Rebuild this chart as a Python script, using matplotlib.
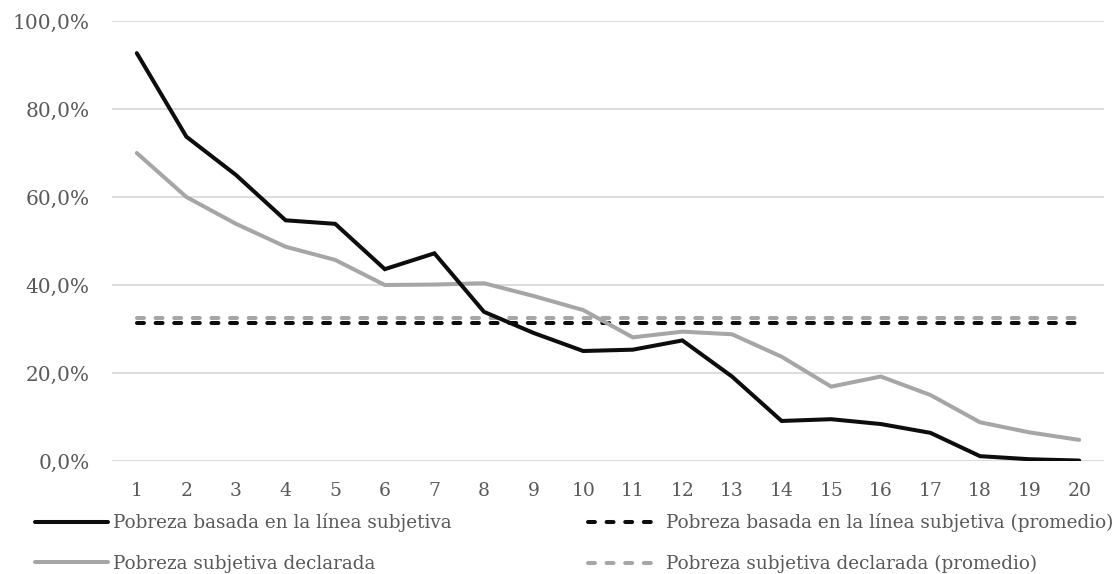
import matplotlib
matplotlib.use("Agg")
import matplotlib.pyplot as plt
from matplotlib.ticker import FuncFormatter

# deciles / grupos 1..20
grupos = list(range(1, 21))
linea_subjetiva = [92.7, 73.7, 65.0, 54.7, 53.9, 43.6, 47.2, 33.9, 29.1, 25.0,
                   25.3, 27.4, 19.2, 9.1, 9.5, 8.4, 6.4, 1.1, 0.4, 0.1]
declarada = [70.0, 60.0, 53.9, 48.7, 45.7, 40.0, 40.1, 40.4, 37.5, 34.3,
             28.1, 29.4, 28.8, 23.7, 16.9, 19.2, 15.0, 8.8, 6.5, 4.8]
promedio_linea = 31.3
promedio_declarada = 32.4

etiquetas = [
    "Pobreza basada en la línea subjetiva",
    "Pobreza subjetiva declarada",
    "Pobreza basada en la línea subjetiva (promedio)",
    "Pobreza subjetiva declarada (promedio)",
]

NEGRO = "#0d0d0d"
GRIS = "#a6a6a6"
TEXTO = "#595959"

plt.rcParams["font.family"] = ["DejaVu Serif"]
plt.rcParams["lines.scale_dashes"] = False

fig = plt.figure(figsize=(11.17, 5.74), dpi=100)
ax = fig.add_axes([112 / 1117, 1 - 461 / 574, (1104 - 112) / 1117, 440 / 574])

lw = 2.9
l1, = ax.plot(grupos, linea_subjetiva, color=NEGRO, lw=lw, solid_joinstyle="miter",
              solid_capstyle="round", zorder=4)
l2, = ax.plot(grupos, declarada, color=GRIS, lw=lw, solid_joinstyle="miter",
              solid_capstyle="round", zorder=3)
l3, = ax.plot([grupos[0], grupos[-1]], [promedio_linea] * 2, color=NEGRO, lw=lw,
              dashes=(5.0, 8.4), dash_capstyle="round", zorder=2)
l4, = ax.plot([grupos[0], grupos[-1]], [promedio_declarada] * 2, color=GRIS, lw=lw,
              dashes=(5.0, 8.4), dash_capstyle="round", zorder=1)

ax.set_xlim(0.5, 20.5)
ax.set_ylim(0, 100)
ax.set_xticks(grupos)
ax.set_yticks([0, 20, 40, 60, 80, 100])
ax.yaxis.set_major_formatter(FuncFormatter(lambda v, _: f"{v:.1f}%".replace(".", ",")))
ax.grid(axis="y", color="#d9d9d9", lw=1.3)
ax.set_axisbelow(True)
for s in ax.spines.values():
    s.set_visible(False)
ax.tick_params(length=0, labelcolor=TEXTO)
ax.tick_params(axis="y", pad=16, labelsize=14.5)
ax.tick_params(axis="x", pad=15, labelsize=13.5)

fig.legend([l1, l2, l3, l4], etiquetas, ncol=2, loc="upper left",
           bbox_to_anchor=(35 / 1117, 1 - 513 / 574), frameon=False,
           fontsize=13.2, labelcolor=TEXTO, handlelength=3.98, handletextpad=0.27,
           columnspacing=7.47, labelspacing=1.24, borderpad=0, borderaxespad=0)

fig.savefig("out.png", dpi=100)
